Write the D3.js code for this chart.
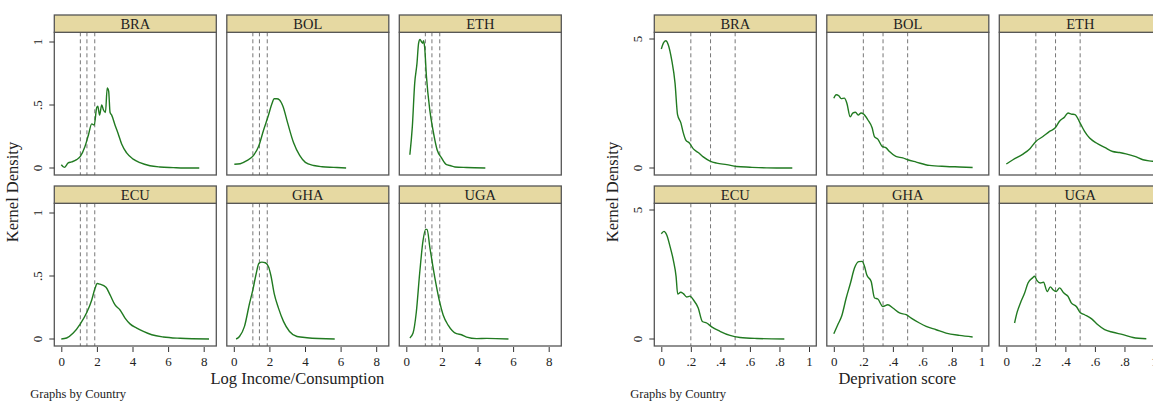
<!DOCTYPE html>
<html><head><meta charset="utf-8">
<script src="https://cdn.jsdelivr.net/npm/d3@7"></script>
<style>body{margin:0;background:#fff}svg{display:block}text{font-family:"Liberation Serif","DejaVu Serif",serif;fill:#222}</style>
</head><body><svg id="c" width="1153" height="401"></svg>
<script>
const countries = ["BRA","BOL","ETH","ECU","GHA","UGA"];
// Left chart: log income/consumption densities [x, density]
const incBRA = [[0,0.026],[0.17,0.005],[0.39,0.04],[0.58,0.048],[0.86,0.066],[1.07,0.092],[1.33,0.17],[1.52,0.26],[1.71,0.35],[1.85,0.34],[1.99,0.48],[2.05,0.49],[2.15,0.42],[2.27,0.50],[2.37,0.46],[2.48,0.44],[2.58,0.635],[2.66,0.61],[2.74,0.44],[2.83,0.42],[3.02,0.34],[3.2,0.27],[3.39,0.19],[3.67,0.12],[4.04,0.07],[4.42,0.042],[4.98,0.018],[5.54,0.008],[6.29,0.003],[6.9,0],[7.75,0]];
const incBOL = [[0.03,0.03],[0.36,0.034],[0.73,0.058],[1.1,0.098],[1.39,0.17],[1.67,0.30],[1.95,0.42],[2.14,0.51],[2.27,0.55],[2.42,0.55],[2.57,0.54],[2.76,0.49],[3.02,0.36],[3.36,0.20],[3.7,0.10],[4.02,0.045],[4.49,0.02],[4.96,0.01],[5.61,0.005],[6.31,0]];
const incETH = [[0.2,0.105],[0.34,0.33],[0.47,0.67],[0.6,0.83],[0.69,0.99],[0.77,1.02],[0.86,1.0],[0.92,0.99],[0.97,1.01],[1.03,0.96],[1.13,0.73],[1.32,0.46],[1.5,0.30],[1.73,0.145],[1.98,0.08],[2.26,0.026],[2.45,0.02],[2.73,0.008],[3.39,0.004],[4.44,0]];
const incECU = [[0,0],[0.3,0.008],[0.67,0.047],[1.07,0.12],[1.43,0.21],[1.71,0.31],[1.89,0.40],[2.02,0.44],[2.17,0.435],[2.51,0.41],[2.74,0.35],[3.02,0.27],[3.3,0.23],[3.58,0.166],[3.86,0.12],[4.24,0.087],[4.61,0.06],[5.08,0.034],[5.73,0.016],[6.67,0.006],[8.3,0]];
const incGHA = [[0.13,0],[0.32,0.02],[0.6,0.1],[0.88,0.28],[1.07,0.39],[1.26,0.52],[1.41,0.60],[1.58,0.61],[1.77,0.605],[1.96,0.57],[2.09,0.50],[2.27,0.36],[2.51,0.245],[2.79,0.14],[3.13,0.06],[3.55,0.02],[4.11,0.01],[5.67,0]];
const incUGA = [[0.2,0.008],[0.38,0.047],[0.56,0.21],[0.75,0.52],[0.94,0.78],[1.09,0.87],[1.17,0.87],[1.32,0.73],[1.5,0.57],[1.69,0.42],[1.88,0.29],[2.07,0.19],[2.35,0.11],[2.82,0.042],[3.1,0.034],[3.39,0.015],[3.95,0.003],[4.52,0.005],[5.74,0]];
// Right chart: deprivation score densities [x, density]
const depBRA = [[0,4.61],[0.014,4.84],[0.03,4.93],[0.047,4.78],[0.07,4.2],[0.093,3.29],[0.11,2.07],[0.133,1.74],[0.149,1.36],[0.167,1.07],[0.19,0.97],[0.217,0.74],[0.25,0.6],[0.284,0.43],[0.33,0.27],[0.375,0.19],[0.443,0.13],[0.51,0.06],[0.6,0.03],[0.714,0.005],[0.887,0]];
const depBOL = [[0,2.7],[0.016,2.84],[0.034,2.8],[0.05,2.69],[0.072,2.71],[0.088,2.52],[0.111,1.98],[0.128,2.13],[0.147,2.16],[0.165,2.05],[0.185,2.13],[0.2,2.1],[0.23,1.87],[0.26,1.55],[0.275,1.22],[0.298,1.12],[0.327,0.84],[0.354,0.78],[0.377,0.64],[0.42,0.45],[0.467,0.39],[0.5,0.32],[0.558,0.23],[0.648,0.10],[0.76,0.06],[0.85,0.04],[0.94,0.02]];
const depETH = [[0,0.155],[0.045,0.32],[0.113,0.54],[0.16,0.75],[0.2,1.03],[0.248,1.22],[0.293,1.42],[0.33,1.55],[0.36,1.81],[0.395,1.98],[0.418,2.13],[0.44,2.09],[0.465,2.07],[0.5,1.74],[0.53,1.42],[0.564,1.16],[0.61,0.97],[0.666,0.80],[0.72,0.64],[0.767,0.60],[0.81,0.55],[0.87,0.45],[0.925,0.32],[0.99,0.26],[1.0,0.25]];
const depECU = [[0,4.08],[0.018,4.17],[0.036,4.04],[0.059,3.59],[0.081,3.07],[0.1,2.43],[0.111,1.74],[0.131,1.81],[0.149,1.76],[0.172,1.63],[0.194,1.66],[0.217,1.52],[0.25,1.2],[0.278,0.68],[0.307,0.62],[0.341,0.47],[0.397,0.30],[0.465,0.14],[0.533,0.06],[0.646,0.02],[0.833,0]];
const depGHA = [[0,0.2],[0.027,0.55],[0.054,0.9],[0.084,1.59],[0.113,2.17],[0.14,2.75],[0.169,3.0],[0.192,3.01],[0.208,2.81],[0.223,2.49],[0.253,2.23],[0.276,1.59],[0.298,1.55],[0.332,1.26],[0.366,1.33],[0.4,1.2],[0.445,1.01],[0.49,0.94],[0.524,0.81],[0.58,0.62],[0.625,0.49],[0.693,0.36],[0.76,0.23],[0.85,0.14],[0.94,0.08]];
const depUGA = [[0.056,0.62],[0.072,1.01],[0.1,1.46],[0.124,1.78],[0.147,2.17],[0.176,2.36],[0.192,2.43],[0.207,2.27],[0.23,2.17],[0.252,2.2],[0.277,1.84],[0.298,2.02],[0.316,1.91],[0.338,1.84],[0.361,1.98],[0.39,1.78],[0.418,1.65],[0.44,1.40],[0.474,1.26],[0.5,1.03],[0.53,0.94],[0.578,0.78],[0.62,0.55],[0.666,0.36],[0.722,0.26],[0.79,0.17],[0.858,0.06],[0.948,0.01]];
const incLines = [1.07, 1.44, 1.88];
const depLines = [0.2, 1/3, 0.5];
const incXTicks = [0,2,4,6,8];
const incYTicks = [0,0.5,1];
const depXTicks = [0,0.2,0.4,0.6,0.8,1];
const depYTicks = [0,5];
const fmt = v => v===0 ? "0" : (v<1 && v>0 ? String(v).replace(/^0/,"") : String(v));

const svg = d3.select("#c");
const charts = [
  {x0:54.3, data:[incBRA,incBOL,incETH,incECU,incGHA,incUGA], xd:[0,8], xpx:142.4, yd:[0,1], ypx:126, xt:incXTicks, yt:incYTicks, vl:incLines, title:"Log Income/Consumption"},
  {x0:654.3, data:[depBRA,depBOL,depETH,depECU,depGHA,depUGA], xd:[0,1], xpx:147.7, yd:[0,5], ypx:129, xt:depXTicks, yt:depYTicks, vl:depLines, title:"Deprivation score"}
];
const colStep = 172.5, pw = 162, rows = [{top:15},{top:186}], hh = 17.3, ph = 142.7;
charts.forEach(ch=>{
  countries.forEach((c,i)=>{
    const col = i%3, row = Math.floor(i/3);
    const L = ch.x0 + col*colStep, T = rows[row].top, PT = T+hh, PB = PT+ph;
    const x = d3.scaleLinear().domain(ch.xd).range([L+7, L+7+ch.xpx]);
    const y = d3.scaleLinear().domain(ch.yd).range([PB-7, PB-7-ch.ypx]);
    const g = svg.append("g");
    g.append("defs").append("clipPath").attr("id",`cl${ch.x0}_${i}`).append("rect").attr("x",L).attr("y",PT).attr("width",pw).attr("height",ph);
    g.append("rect").attr("x",L).attr("y",PT).attr("width",pw).attr("height",ph).attr("fill","#fff");
    ch.vl.forEach(v=>g.append("line").attr("x1",x(v)).attr("x2",x(v)).attr("y1",PT).attr("y2",PB).attr("stroke","#777").attr("stroke-width",1).attr("stroke-dasharray","4,3"));
    g.append("path").datum(ch.data[i]).attr("clip-path",`url(#cl${ch.x0}_${i})`)
      .attr("d",d3.line().x(d=>x(d[0])).y(d=>y(d[1])).curve(d3.curveMonotoneX))
      .attr("fill","none").attr("stroke","#217a21").attr("stroke-width",1.4);
    g.append("rect").attr("x",L).attr("y",PT).attr("width",pw).attr("height",ph).attr("fill","none").attr("stroke","#555").attr("stroke-width",1.3);
    g.append("rect").attr("x",L).attr("y",T).attr("width",pw).attr("height",hh).attr("fill","#e6d9a2").attr("stroke","#555").attr("stroke-width",1.3);
    g.append("text").attr("x",L+pw/2).attr("y",T+hh/2+5).attr("text-anchor","middle").attr("font-size",14.5).text(c);
    if(col===0){
      const ax = g.append("g").attr("transform",`translate(${L},0)`).call(d3.axisLeft(y).tickValues(ch.yt).tickSize(5).tickFormat(fmt));
      ax.select(".domain").remove();
      ax.selectAll("line").attr("stroke","#333");
      ax.selectAll("text").attr("transform",null).attr("x",null).attr("dy",null).each(function(d){
        d3.select(this).attr("transform",`translate(-12,${y(d)}) rotate(-90)`).attr("text-anchor","middle").attr("y",0).attr("x",0);
      }).attr("font-size",13).attr("font-family","Liberation Serif").attr("fill","#222");
      ax.selectAll(".tick").attr("transform",null);
      ax.selectAll(".tick line").each(function(d){d3.select(this).attr("y1",y(d)).attr("y2",y(d));});
    }
    if(row===1){
      const ax = g.append("g").attr("transform",`translate(0,${PB+1})`).call(d3.axisBottom(x).tickValues(ch.xt).tickSize(5).tickFormat(fmt));
      ax.select(".domain").remove();
      ax.selectAll("line").attr("stroke","#333");
      ax.selectAll("text").attr("font-size",13).attr("font-family","Liberation Serif").attr("fill","#222").attr("dy","0.85em");
    }
  });
  svg.append("text").attr("transform",`translate(${ch.x0-36},${192}) rotate(-90)`).attr("text-anchor","middle").attr("font-size",16.5).text("Kernel Density");
  svg.append("text").attr("x",ch.x0+243).attr("y",384).attr("text-anchor","middle").attr("font-size",16.5).text(ch.title);
  svg.append("text").attr("x",ch.x0-24).attr("y",398).attr("font-size",12.5).text("Graphs by Country");
});
</script></body></html>
